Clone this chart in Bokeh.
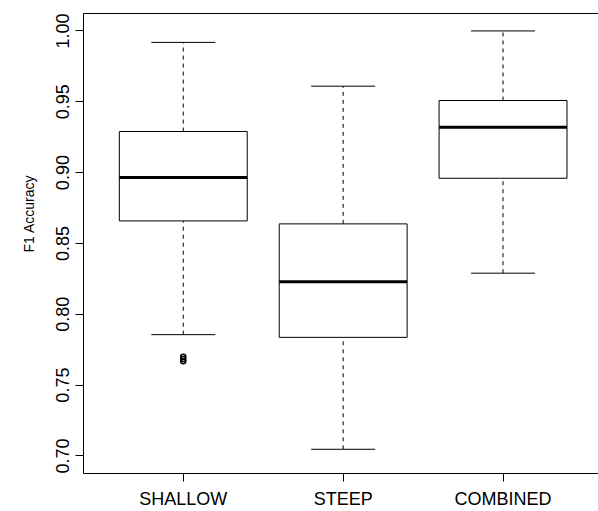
from bokeh.plotting import figure
from bokeh.models import Range1d, FixedTicker, LinearAxis, Title
from bokeh.embed import file_html
from bokeh.resources import INLINE

categories = ["SHALLOW", "STEEP", "COMBINED"]
positions = [1, 2, 3]
lower_whisker = [0.7856, 0.7047, 0.829]
q1 = [0.8659, 0.7837, 0.896]
median = [0.8965, 0.823, 0.932]
q3 = [0.929, 0.8638, 0.9509]
upper_whisker = [0.9919, 0.961, 1.000]
outlier_pos = [1, 1, 1]
outlier_values = [0.7668, 0.7684, 0.7700]
y_ticks = [0.70, 0.75, 0.80, 0.85, 0.90, 0.95, 1.00]
y_title = "F1 Accuracy"

BOX_W = 0.8
CAP_W = 0.4
FONT = "Liberation Sans"
X0, X1 = 0.376, 3.597
Y0, Y1 = 0.6876, 1.0123

p = figure(width=598, height=511, output_backend="svg", toolbar_location=None,
           x_range=Range1d(X0, X1), y_range=Range1d(Y0, Y1),
           min_border_left=83, min_border_right=0, min_border_top=13,
           min_border_bottom=34)
p.outline_line_color = None
p.xgrid.visible = False
p.ygrid.visible = False
p.background_fill_color = "white"
p.border_fill_color = "white"

# whiskers (dashed)
p.segment(x0=positions, y0=q3, x1=positions, y1=upper_whisker,
          line_color="black", line_width=1, line_dash="4 4")
p.segment(x0=positions, y0=lower_whisker, x1=positions, y1=q1,
          line_color="black", line_width=1, line_dash="4 4")
# caps
p.segment(x0=[x - CAP_W / 2 for x in positions], y0=upper_whisker,
          x1=[x + CAP_W / 2 for x in positions], y1=upper_whisker,
          line_color="black", line_width=1)
p.segment(x0=[x - CAP_W / 2 for x in positions], y0=lower_whisker,
          x1=[x + CAP_W / 2 for x in positions], y1=lower_whisker,
          line_color="black", line_width=1)
# boxes
p.quad(left=[x - BOX_W / 2 for x in positions], right=[x + BOX_W / 2 for x in positions],
       bottom=q1, top=q3, fill_color="white", line_color="black", line_width=1)
# medians
p.segment(x0=[x - BOX_W / 2 for x in positions], y0=median,
          x1=[x + BOX_W / 2 for x in positions], y1=median,
          line_color="black", line_width=3)
# outliers
p.scatter(x=outlier_pos, y=outlier_values, marker="circle", size=5,
          fill_color=None, line_color="black", line_width=1.5)

# axes
for ax in (p.xaxis[0], p.yaxis[0]):
    ax.axis_line_color = "black"
    ax.major_tick_line_color = "black"
    ax.major_tick_out = 8
    ax.major_tick_in = 0
    ax.minor_tick_line_color = None
    ax.major_label_text_font = FONT
    ax.major_label_text_font_size = "18px"
    ax.major_label_text_color = "black"

p.xaxis.ticker = FixedTicker(ticks=positions)
p.xaxis.major_label_overrides = {pos: c for pos, c in zip(positions, categories)}
p.xaxis.major_label_standoff = 7

p.yaxis.ticker = FixedTicker(ticks=y_ticks)
p.yaxis.major_label_overrides = {t: f"{t:.2f}" for t in y_ticks}
p.yaxis.major_label_orientation = "vertical"
p.yaxis.major_label_standoff = 6

# y-axis title, placed as in the reference (slightly above frame centre)
title = Title(text=y_title, align="left", offset=221, standoff=33,
              text_font=FONT, text_font_size="14px", text_font_style="normal",
              text_color="black")
p.add_layout(title, "left")

top = LinearAxis(ticker=FixedTicker(ticks=[]), axis_line_color="black",
                 major_tick_line_color=None, minor_tick_line_color=None,
                 major_label_text_font_size="0px")
p.add_layout(top, "above")

open("out.html", "w").write(file_html(p, INLINE))
